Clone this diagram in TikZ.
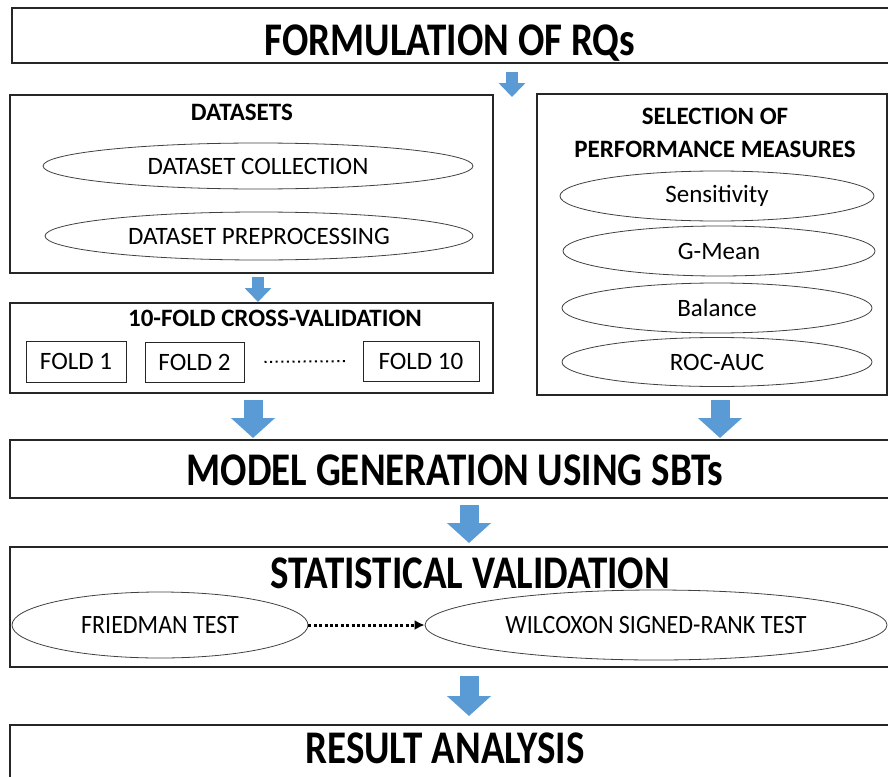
\documentclass[tikz,border=0pt]{standalone}
\usepackage{fontspec}
\setmainfont{Carlito}
\usetikzlibrary{shapes.geometric,arrows.meta,positioning}
\definecolor{arrowblue}{RGB}{91,155,213}
\newcommand{\tallText}[1]{\scalebox{1}[1.2]{#1}}

\tikzset{
	box/.style={draw=black!85, line width=1.2pt, inner sep=0pt},
	oval/.style={ellipse, draw=black!75, line width=0.8pt, inner sep=0pt, font=\fontsize{25}{30}\selectfont},
	bigtitle/.style={font=\fontsize{39}{44}\selectfont\bfseries},
	subtitle/.style={font=\fontsize{25}{33}\selectfont\bfseries, align=center},
	fold/.style={draw=black!85, line width=1pt, inner sep=0pt, font=\fontsize{25}{30}\selectfont},
	bigarrow/.style={draw=arrowblue, fill=arrowblue, line width=19pt, -{Triangle[width=43pt,length=20pt]}},
	smallarrow/.style={draw=arrowblue, fill=arrowblue, line width=12pt, -{Triangle[width=26pt,length=14pt]}},
}

\begin{document}
\begin{tikzpicture}[x=1pt,y=-1pt]
	\useasboundingbox (0,0) rectangle (888,776);

	% top box
	\node[box, minimum width=880pt, minimum height=55pt] (rqs) at (452,35.5) {};
	\node[bigtitle] (rqstext) at (450,43) {\tallText{FORMULATION OF RQs}};

	% datasets
	\node[box, minimum width=483pt, minimum height=178pt] (data) at (251.5,184) {};
	\node[subtitle] (datatitle) at (242,112) {DATASETS};
	\node[oval, minimum width=430pt, minimum height=46pt] (collect) at (258,166) {DATASET COLLECTION};
	\node[oval, minimum width=428pt, minimum height=48pt] (prep) at (259,236) {DATASET PREPROCESSING};

	% cross-validation
	\node[box, minimum width=483pt, minimum height=90pt] (cv) at (251.5,348) {};
	\node[subtitle] (cvtitle) at (275,318) {10-FOLD CROSS-VALIDATION};
	\node[fold, minimum width=100pt, minimum height=41pt] (fold1) at (76,361.5) {FOLD 1};
	\node[fold, minimum width=99pt, minimum height=40pt] (fold2) at (194.5,362) {FOLD 2};
	\node[fold, minimum width=116pt, minimum height=40pt] (fold10) at (421,361) {FOLD 10};
	\draw[line width=2pt, dash pattern=on 2pt off 3.6pt, shorten <=20pt, shorten >=17pt, yshift=-3pt] (fold2.east) -- (fold10.west);

	% performance measures
	\node[box, minimum width=350pt, minimum height=301pt] (perf) at (712,244.5) {};
	\node[subtitle] (perftitle) at (715,133) {SELECTION OF\\PERFORMANCE MEASURES};
	\node[oval, minimum width=314pt, minimum height=50pt] (sens) at (717,196) {Sensitivity};
	\node[oval, minimum width=312pt, minimum height=50pt] (gmean) at (719,251) {G-Mean};
	\node[oval, minimum width=310pt, minimum height=50pt] (bal) at (717,308) {Balance};
	\node[oval, minimum width=310pt, minimum height=49pt] (roc) at (717,362) {ROC-AUC};

	% model generation
	\node[box, minimum width=882pt, minimum height=58pt] (model) at (451,469) {};
	\node[bigtitle] (modeltext) at (455,470) {\tallText{MODEL GENERATION USING SBTs}};

	% statistical validation
	\node[box, minimum width=882pt, minimum height=120pt] (stat) at (451,607) {};
	\node[bigtitle] (stattitle) at (470,573) {\tallText{STATISTICAL VALIDATION}};
	\node[oval, minimum width=296pt, minimum height=66pt, font=\fontsize{24}{28}\selectfont] (friedman) at (160,625) {\scalebox{1}[1.1]{FRIEDMAN TEST}};
	\node[oval, minimum width=462pt, minimum height=70pt, font=\fontsize{24}{28}\selectfont] (wilcoxon) at (656,625) {\scalebox{1}[1.1]{WILCOXON SIGNED-RANK TEST}};
	\draw[line width=3pt, dash pattern=on 3pt off 2.4pt, -{Latex[length=10pt,width=10pt]}] (friedman) -- (wilcoxon);

	% result analysis
	\node[box, minimum width=882pt, minimum height=65pt] (result) at (451,757.5) {};
	\node[bigtitle] (resulttext) at (445,748) {\tallText{RESULT ANALYSIS}};

	% block arrows
	\coordinate (a1) at (512,72);
	\coordinate (a2) at (512,97);
	\draw[smallarrow] (a1) -- (a2);
	\coordinate (b1) at (258,277);
	\coordinate (b2) at (258,302);
	\draw[smallarrow] (b1) -- (b2);
	\coordinate (c1) at (253,400);
	\coordinate (c2) at (253,438);
	\draw[bigarrow] (c1) -- (c2);
	\coordinate (d1) at (720,400);
	\coordinate (d2) at (720,438);
	\draw[bigarrow] (d1) -- (d2);
	\coordinate (e1) at (469,505);
	\coordinate (e2) at (469,543);
	\draw[bigarrow] (e1) -- (e2);
	\coordinate (f1) at (469,676);
	\coordinate (f2) at (469,716);
	\draw[bigarrow] (f1) -- (f2);
\end{tikzpicture}
\end{document}
